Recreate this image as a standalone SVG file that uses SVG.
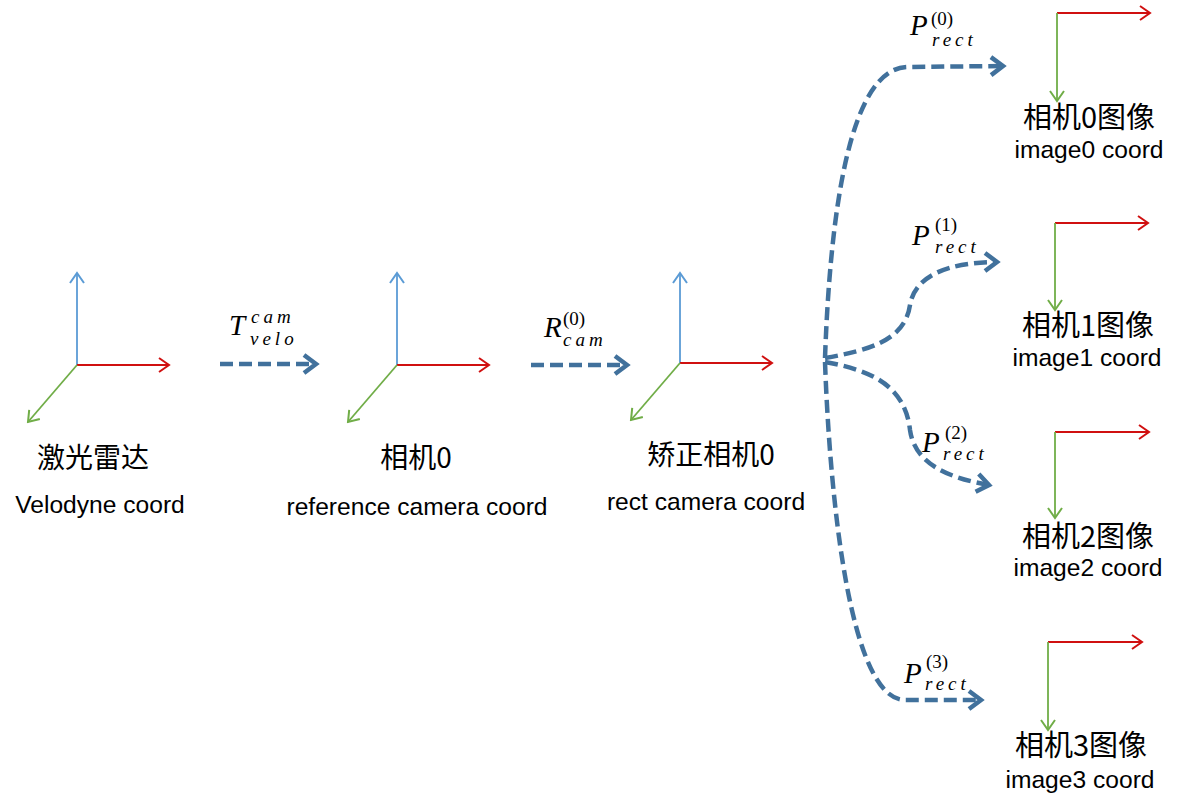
<svg xmlns="http://www.w3.org/2000/svg" width="1182" height="804" viewBox="0 0 1182 804">
<defs>
<style>
.ax{fill:none;stroke-width:1.8}
.bl{stroke:#5B9BD5}
.rd{stroke:#D01010}
.gr{stroke:#70AD47}
.con{fill:none;stroke:#41719C;stroke-width:4.5;stroke-dasharray:13 6}
.zh{font-family:"Noto Sans CJK SC","Liberation Sans",sans-serif;font-size:28px;fill:#000;text-anchor:middle}
.zi{font-size:29px}
.en{font-family:"Liberation Sans",Arial,sans-serif;font-size:24.6px;fill:#000;text-anchor:middle}
.mi{font-family:"Liberation Serif","Times New Roman",serif;font-style:italic;fill:#000}
.big{font-size:29px}
.sup{font-size:19px;font-style:normal}
.sub{font-size:19px;letter-spacing:4px}
</style>
<marker id="hb" viewBox="-12 -9 14 18" refX="0" refY="0" markerWidth="14" markerHeight="18" markerUnits="userSpaceOnUse" orient="auto"><path d="M-10,-7 L0,0 L-10,7" fill="none" stroke="#5B9BD5" stroke-width="2"/></marker>
<marker id="hr" viewBox="-12 -9 14 18" refX="0" refY="0" markerWidth="14" markerHeight="18" markerUnits="userSpaceOnUse" orient="auto"><path d="M-10,-7 L0,0 L-10,7" fill="none" stroke="#D01010" stroke-width="2"/></marker>
<marker id="hg" viewBox="-12 -9 14 18" refX="0" refY="0" markerWidth="14" markerHeight="18" markerUnits="userSpaceOnUse" orient="auto"><path d="M-10,-7 L0,0 L-10,7" fill="none" stroke="#70AD47" stroke-width="2"/></marker>
<marker id="hc" viewBox="-16 -12 20 24" refX="0" refY="0" markerWidth="20" markerHeight="24" markerUnits="userSpaceOnUse" orient="auto"><path d="M-12,-9 L0,0 L-12,9" fill="none" stroke="#41719C" stroke-width="4.5" stroke-linejoin="miter"/></marker>
</defs>
<rect width="1182" height="804" fill="#fff"/>

<g id="velodyne">
<line class="ax bl" x1="77" y1="365" x2="77" y2="273" marker-end="url(#hb)"/>
<line class="ax rd" x1="77" y1="365" x2="169" y2="365" marker-end="url(#hr)"/>
<line class="ax gr" x1="77" y1="365" x2="28" y2="422" marker-end="url(#hg)"/>
<text class="zh" x="93" y="468">激光雷达</text>
<text class="en" x="100" y="513">Velodyne coord</text>
</g>

<g id="camera0">
<line class="ax bl" x1="397" y1="365" x2="397" y2="273" marker-end="url(#hb)"/>
<line class="ax rd" x1="397" y1="365" x2="489" y2="365" marker-end="url(#hr)"/>
<line class="ax gr" x1="397" y1="365" x2="348" y2="422" marker-end="url(#hg)"/>
<text class="zh" x="416" y="468">相机0</text>
<text class="en" x="417" y="515">reference camera coord</text>
</g>

<g id="rectcam0">
<line class="ax bl" x1="680" y1="363" x2="680" y2="273" marker-end="url(#hb)"/>
<line class="ax rd" x1="680" y1="363" x2="772" y2="363" marker-end="url(#hr)"/>
<line class="ax gr" x1="680" y1="363" x2="631" y2="420" marker-end="url(#hg)"/>
<text class="zh" x="711" y="465">矫正相机0</text>
<text class="en" x="706" y="510">rect camera coord</text>
</g>

<g id="image0">
<line class="ax rd" x1="1057" y1="13" x2="1150" y2="13" marker-end="url(#hr)"/>
<line class="ax gr" x1="1057" y1="13" x2="1057" y2="101" marker-end="url(#hg)"/>
<text class="zh zi" x="1089" y="128">相机0图像</text>
<text class="en" x="1089" y="158">image0 coord</text>
</g>

<g id="image1">
<line class="ax rd" x1="1055" y1="223" x2="1148" y2="223" marker-end="url(#hr)"/>
<line class="ax gr" x1="1055" y1="223" x2="1055" y2="310" marker-end="url(#hg)"/>
<text class="zh zi" x="1088" y="336">相机1图像</text>
<text class="en" x="1087" y="366">image1 coord</text>
</g>

<g id="image2">
<line class="ax rd" x1="1055" y1="432" x2="1149" y2="432" marker-end="url(#hr)"/>
<line class="ax gr" x1="1055" y1="432" x2="1055" y2="518" marker-end="url(#hg)"/>
<text class="zh zi" x="1088" y="547">相机2图像</text>
<text class="en" x="1088" y="576">image2 coord</text>
</g>

<g id="image3">
<line class="ax rd" x1="1048" y1="642" x2="1142" y2="642" marker-end="url(#hr)"/>
<line class="ax gr" x1="1048" y1="642" x2="1048" y2="730" marker-end="url(#hg)"/>
<text class="zh zi" x="1081" y="756">相机3图像</text>
<text class="en" x="1080" y="788">image3 coord</text>
</g>

<g id="connectors">
<path class="con" d="M220,364 L316,364" marker-end="url(#hc)"/>
<path class="con" d="M531,365 L627,365" marker-end="url(#hc)"/>
<path class="con" d="M825,358 C830,220 848,67 908,67 L1003,66" marker-end="url(#hc)"/>
<path class="con" d="M825,358 C870,350 905,340 910,305 C915,275 950,262 997,262" marker-end="url(#hc)"/>
<path class="con" d="M825,362 C870,370 905,385 910,430 C915,465 950,478 989,485" marker-end="url(#hc)"/>
<path class="con" d="M825,362 C830,500 850,700 905,700 L981,700" marker-end="url(#hc)"/>
</g>

<g id="labels">
<text class="mi"><tspan class="big" x="229" y="335">T</tspan><tspan class="sub" x="251" y="323">cam</tspan></text>
<text class="mi"><tspan class="sub" x="250" y="345">velo</tspan></text>
<text class="mi"><tspan class="big" x="544" y="337">R</tspan><tspan class="sup" x="563" y="325">(0)</tspan></text>
<text class="mi"><tspan class="sub" x="563" y="346">cam</tspan></text>
<text class="mi"><tspan class="big" x="910" y="35">P</tspan><tspan class="sup" x="931" y="25">(0)</tspan><tspan class="sub" x="932" y="46">rect</tspan></text>
<text class="mi"><tspan class="big" x="912" y="245">P</tspan><tspan class="sup" x="935" y="231">(1)</tspan><tspan class="sub" x="935" y="253">rect</tspan></text>
<text class="mi"><tspan class="big" x="922" y="452">P</tspan><tspan class="sup" x="945" y="439">(2)</tspan><tspan class="sub" x="943" y="460">rect</tspan></text>
<text class="mi"><tspan class="big" x="904" y="683">P</tspan><tspan class="sup" x="926" y="668">(3)</tspan><tspan class="sub" x="925" y="690">rect</tspan></text>
</g>
</svg>
